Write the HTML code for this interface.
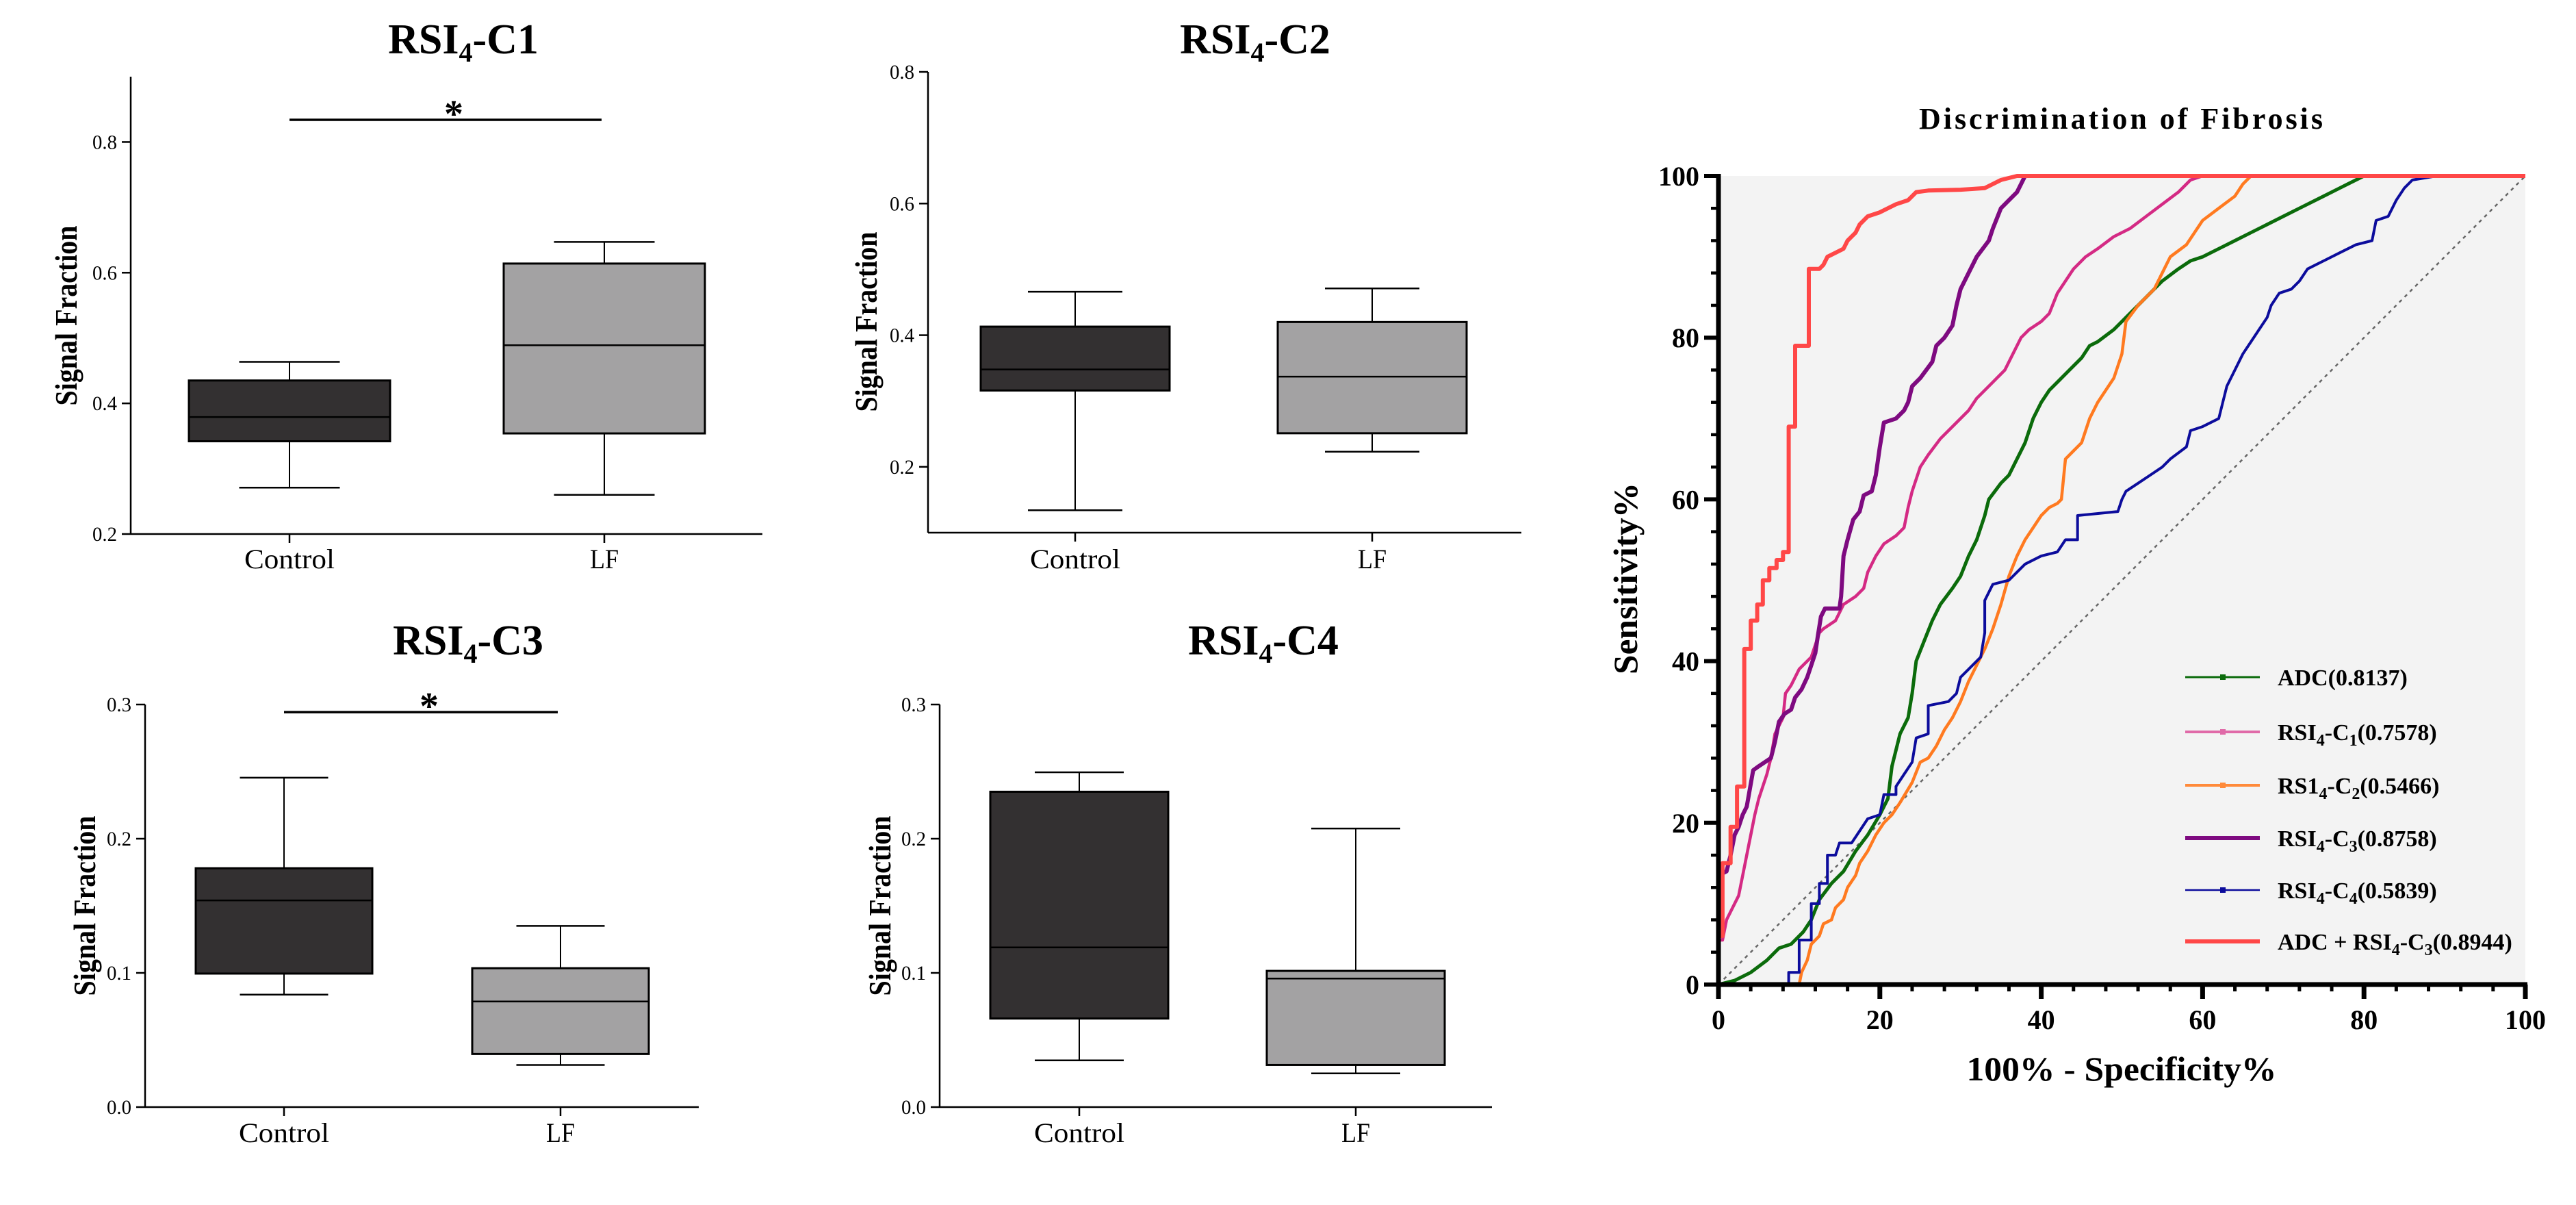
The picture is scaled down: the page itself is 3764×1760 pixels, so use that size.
<!DOCTYPE html>
<html><head><meta charset="utf-8"><style>
html,body{margin:0;padding:0;background:#fff;overflow:hidden;}
svg{display:block;}
text{font-family:"Liberation Serif",serif;fill:#000;}
</style></head><body>
<svg id="fig" width="3764" height="1760" viewBox="0 0 3764 1760" xmlns="http://www.w3.org/2000/svg">
<rect x="0" y="0" width="3764" height="1760" fill="#fff"/>
</svg>
<script>
// ---- Box plot data (min, q1, median, q3, max) ----
const boxCategories = ["Control", "LF"];
const c1Control = [0.271, 0.342, 0.379, 0.435, 0.4635];
const c1LF = [0.260, 0.354, 0.489, 0.614, 0.647];
const c2Control = [0.134, 0.316, 0.348, 0.413, 0.466];
const c2LF = [0.223, 0.251, 0.337, 0.420, 0.471];
const c3Control = [0.0838, 0.0995, 0.154, 0.178, 0.2455];
const c3LF = [0.0314, 0.0396, 0.0787, 0.1035, 0.135];
const c4Control = [0.0348, 0.066, 0.119, 0.235, 0.2495];
const c4LF = [0.0251, 0.0314, 0.0958, 0.1015, 0.2076];
const c1Ticks = [0.2, 0.4, 0.6, 0.8];
const c2Ticks = [0.2, 0.4, 0.6, 0.8];
const c3Ticks = [0.0, 0.1, 0.2, 0.3];
const c4Ticks = [0.0, 0.1, 0.2, 0.3];

// ---- ROC data (x = 100-Specificity%, y = Sensitivity%) ----
const rocTicks = [0, 20, 40, 60, 80, 100];
const rocNames = ["ADC(0.8137)", "RSI4-C1(0.7578)", "RS14-C2(0.5466)", "RSI4-C3(0.8758)", "RSI4-C4(0.5839)", "ADC + RSI4-C3(0.8944)"];
const adcX = [0,2,4,6,7.5,9,10.5,11.5,12.5,14,15.5,17,18.5,20,21,21.5,22.5,23.5,24,24.5,25.5,26.5,27.5,29,30,31,32,33,33.5,35,36,37,38,39,40,41,42,43.5,45,46,47,49,51,53,55,57,58.5,60,62,64,66,68,70,72,75,77,80,100];
const adcY = [0,0.5,1.5,3,4.5,5,6.5,8,10.5,12.5,14,16.5,18.5,21,23,27,31,33,36,40,42.5,45,47,49,50.5,53,55,58,60,62,63,65,67,70,72,73.5,74.5,76,77.5,79,79.5,81,83,85,87,88.5,89.5,90,91,92,93,94,95,96,97.5,98.5,100,100];
const c1X = [0,0,0.5,1,2,2.5,3,3.5,4,4.5,5,6,6.5,7,8,8.3,9,10,11.5,12.5,13,14.5,15.5,17,18,18.5,19.5,20.5,22,23,23.5,24,25,26,27.5,29,31,32,34,35.5,36.5,37.5,38.5,40,41,42,43,44,45.5,47,49,51,53,55,57,58.5,60,100];
const c1Y = [0,5.5,5.5,8,10,11,13.5,16,18.5,21,23,26,28,31,33,36,37,39,40.5,43.5,44,45,47,48,49,51,53,54.5,55.5,56.5,59,61,64,65.5,67.5,69,71,72.5,74.5,76,78,80,81,82,83,85.5,87,88.5,90,91,92.5,93.5,95,96.5,98,99.5,100,100];
const c2X = [0,10,10.3,11,11.5,12.5,13,14,14.5,15.5,16,17,17.5,18.5,19.5,20.5,21.5,22.5,24,25,26,27,28,29,30,31,32,33,34,35,36,37,38,39,40,41,42,42.5,43,44,45,46,47,48,49,50,50.5,52,54,55,56,58,60,62,64,65,66,100];
const c2Y = [0,0,1.5,3,5,6,7.5,8,9.5,10.5,12,13.5,15,16.5,18.5,20,21,22.5,25,27.5,28,29.5,31.5,33,35,37.5,39.5,41.5,44,47,50.5,53,55,56.5,58,59,59.5,60,65,66,67,70,72,73.5,75,78,82,84,86,88,90,91.5,94.5,96,97.5,99,100,100];
const c3X = [0,0,1,1.5,2,2.5,3,3.5,4.3,5,6.5,7,7.5,8.2,9,9.5,10.3,11,11.5,12,12.3,12.7,13.2,15,15.2,15.5,16,16.7,17.5,18,19,19.5,20,20.5,22,23,23.5,24,25,26.5,27,28,29,29.5,30,31,32,33.5,34,35,36,37,38,100];
const c3Y = [0,13.5,14,16,18.5,19.5,21,22,26.5,27,28,30,32.5,33.5,34,35.5,36.5,38,39.5,41,43,45.5,46.5,46.5,48,53,55,57.5,58.5,60.5,61,63,66.5,69.5,70,71,72,74,75,77,79,80,81.5,84,86,88,90,92,93.5,96,97,98,100,100];
const c4X = [0,8.7,8.7,10,10,11.5,11.5,12.5,12.5,13.5,13.5,14.5,15,16.5,17.5,18.5,20,20.5,22,22,23,24,24.5,26,26,28.5,29.5,30,31,32.5,33,33,34,36,37,38,40,42,43,44.5,44.5,49.5,50,50.5,52,53.5,55,56,58,58.5,60,62,62.5,63,64,65,66,67,68,68.5,69.5,71,72,73,75,77,79,81,81.5,83,84,85,86,89,100];
const c4Y = [0,0,1.5,1.5,5.5,5.5,10,10,12.5,12.5,16,16,17.5,17.5,19,20.5,21,23.5,23.5,24.5,26,27.5,30.5,31,34.5,35,36,38,39,40.5,43.5,47.5,49.5,50,51,52,53,53.5,55,55,58,58.5,60,61,62,63,64,65,66.5,68.5,69,70,72,74,76,78,79.5,81,82.5,84,85.5,86,87,88.5,89.5,90.5,91.5,92,94.5,95,97,98.5,99.5,100,100];
const comboX = [0,0,0.5,0.5,1.5,1.5,2.3,2.3,3.2,3.2,4,4,4.8,4.8,5.5,5.5,6.3,6.3,7.2,7.2,8,8,8.7,8.7,9.5,9.5,11.2,11.2,12.5,13,13.5,14.5,15.5,16,17,17.5,18.5,20,21,22,23.5,24.5,26,30,33,35,37,100];
const comboY = [0,6,6,15,15,19.5,19.5,24.5,24.5,41.5,41.5,45,45,47,47,50,50,51.5,51.5,52.5,52.5,53.5,53.5,69,69,79,79,88.5,88.5,89,90,90.5,91,92,93,94,95,95.5,96,96.5,97,98,98.2,98.3,98.5,99.5,100,100];

const NS = "http://www.w3.org/2000/svg";
const svg = document.getElementById("fig");
function mk(tag, attrs, parent) {
  const e = document.createElementNS(NS, tag);
  for (const k in attrs) e.setAttribute(k, attrs[k]);
  (parent || svg).appendChild(e);
  return e;
}

// ---------- Box plots ----------
function boxPanel(cfg) {
  const g = mk("g", {});
  
  
  const yScale = v => cfg.bottom - (v - cfg.vmin) / (cfg.vmax - cfg.vmin) * (cfg.bottom - cfg.top);
  const t = mk("text", {x: cfg.titleX, y: cfg.titleY, "text-anchor": "middle", "font-size": 62, "font-weight": "bold"}, g);
  
  
  t.innerHTML = 'RSI<tspan font-size="40" dy="12">4</tspan><tspan dy="-12">-' + cfg.label + '</tspan>';
  const ya = mk("line", {x1: cfg.axX, y1: cfg.top, x2: cfg.axX, y2: cfg.bottom, stroke: "#000", "stroke-width": 2.5}, g);
  
  
  const xa = mk("line", {x1: cfg.axX, y1: cfg.bottom, x2: cfg.right, y2: cfg.bottom, stroke: "#000", "stroke-width": 2.5}, g);
  
  
  cfg.ticks.forEach(v => {
    const y = yScale(v);
    mk("line", {x1: cfg.axX - 13, y1: y, x2: cfg.axX, y2: y, stroke: "#000", "stroke-width": 2.5}, g);
    const tl = mk("text", {x: cfg.axX - 20, y: y + 10, "text-anchor": "end", "font-size": 30, textLength: 36, lengthAdjust: "spacingAndGlyphs"}, g);
    
    
    tl.textContent = v.toFixed(1);
  });
  const yt = mk("text", {x: 0, y: 0, "text-anchor": "middle", "font-size": 46, "font-weight": "bold", textLength: 263, lengthAdjust: "spacingAndGlyphs", transform: `translate(${cfg.ylabX + 16},${cfg.ylabY}) rotate(-90)`}, g);
  
  
  yt.textContent = "Signal Fraction";
  const data = [cfg.ctrl, cfg.lf];
  const fills = ["#333031", "#a3a2a3"];
  boxCategories.forEach((cat, i) => {
    const cx = cfg.cats[i], d = data[i], hw = cfg.hw;
    mk("line", {x1: cx, y1: cfg.bottom, x2: cx, y2: cfg.bottom + 13, stroke: "#000", "stroke-width": 2.5}, g);
    const cl = mk("text", {x: cx, y: cfg.catY, "text-anchor": "middle", "font-size": 40, textLength: cat.length > 2 ? 132 : 42, lengthAdjust: "spacingAndGlyphs"}, g);
    
    
    cl.textContent = cat;
    const bg = mk("g", {}, g);
    
    
    mk("line", {x1: cx, y1: yScale(d[0]), x2: cx, y2: yScale(d[1]), stroke: "#000", "stroke-width": 2}, bg);
    mk("line", {x1: cx, y1: yScale(d[3]), x2: cx, y2: yScale(d[4]), stroke: "#000", "stroke-width": 2}, bg);
    mk("line", {x1: cx - hw / 2, y1: yScale(d[0]), x2: cx + hw / 2, y2: yScale(d[0]), stroke: "#000", "stroke-width": 2.5}, bg);
    mk("line", {x1: cx - hw / 2, y1: yScale(d[4]), x2: cx + hw / 2, y2: yScale(d[4]), stroke: "#000", "stroke-width": 2.5}, bg);
    mk("rect", {x: cx - hw, y: yScale(d[3]), width: 2 * hw, height: yScale(d[1]) - yScale(d[3]), fill: fills[i], stroke: "#000", "stroke-width": 3}, bg);
    mk("line", {x1: cx - hw, y1: yScale(d[2]), x2: cx + hw, y2: yScale(d[2]), stroke: "#000", "stroke-width": 2.5}, bg);
  });
  if (cfg.sig) {
    const sl = mk("line", {x1: cfg.cats[0], y1: yScale(cfg.sig), x2: cfg.cats[1] - 4, y2: yScale(cfg.sig), stroke: "#000", "stroke-width": 3.5}, g);
    
    
    const st = mk("text", {x: (cfg.cats[0] + cfg.cats[1]) / 2 + 10, y: yScale(cfg.sig) + 10, "text-anchor": "middle", "font-size": 56, "font-weight": "bold"}, g);
    
    
    st.textContent = "*";
  }
}
boxPanel({name: "rsi4-c1-boxplot", label: "C1", titleX: 677, titleY: 78, axX: 191, top: 112, bottom: 780, right: 1114, vmin: 0.2, vmax: 0.9, ticks: c1Ticks, cats: [423, 883], hw: 147, ctrl: c1Control, lf: c1LF, catY: 830, ylabX: 96, ylabY: 461, sig: 0.834});
boxPanel({name: "rsi4-c2-boxplot", label: "C2", titleX: 1834, titleY: 78, axX: 1356, top: 105, bottom: 778, right: 2223, vmin: 0.1, vmax: 0.8, ticks: c2Ticks, cats: [1571, 2005], hw: 138, ctrl: c2Control, lf: c2LF, catY: 830, ylabX: 1265, ylabY: 470});
boxPanel({name: "rsi4-c3-boxplot", label: "C3", titleX: 684, titleY: 956, axX: 212, top: 1029, bottom: 1617, right: 1021, vmin: 0, vmax: 0.3, ticks: c3Ticks, cats: [415, 819], hw: 129, ctrl: c3Control, lf: c3LF, catY: 1668, ylabX: 123, ylabY: 1323, sig: 0.2943});
boxPanel({name: "rsi4-c4-boxplot", label: "C4", titleX: 1846, titleY: 956, axX: 1373, top: 1029, bottom: 1617, right: 2180, vmin: 0, vmax: 0.3, ticks: c4Ticks, cats: [1577, 1981], hw: 130, ctrl: c4Control, lf: c4LF, catY: 1668, ylabX: 1285, ylabY: 1323});

// ---------- ROC ----------
const RX0 = 2511, RX1 = 3690, RY0 = 1438, RY1 = 257;
const rx = v => RX0 + v / 100 * (RX1 - RX0);
const ry = v => RY0 - v / 100 * (RY0 - RY1);
const roc = mk("g", {});


const bgR = mk("rect", {x: RX0, y: RY1, width: RX1 - RX0, height: RY0 - RY1, fill: "#f3f3f3"}, roc);


const rt = mk("text", {x: 3099, y: 188, "text-anchor": "middle", "font-size": 44, "font-weight": "bold", textLength: 590, lengthAdjust: "spacing"}, roc);


rt.textContent = "Discrimination of Fibrosis";
const diag = mk("line", {x1: rx(0), y1: ry(0), x2: rx(100), y2: ry(100), stroke: "#666", "stroke-width": 2.5, "stroke-dasharray": "5,6"}, roc);



const series = [
  {x: adcX, y: adcY, color: "#0b6b0b", w: 5, name: "adc-curve"},
  {x: c1X, y: c1Y, color: "#d42a84", w: 4.5, name: "rsi4-c1-curve"},
  {x: c2X, y: c2Y, color: "#ff7a20", w: 4.5, name: "rsi4-c2-curve"},
  {x: c4X, y: c4Y, color: "#0c0c9c", w: 4, name: "rsi4-c4-curve"},
  {x: c3X, y: c3Y, color: "#7e0a80", w: 6, name: "rsi4-c3-curve"},
  {x: comboX, y: comboY, color: "#ff4747", w: 6, name: "adc-plus-rsi4-c3-curve"}
];
series.forEach(s => {
  const pts = s.x.map((v, i) => rx(v).toFixed(1) + "," + ry(s.y[i]).toFixed(1)).join(" ");
  const pl = mk("polyline", {points: pts, fill: "none", stroke: s.color, "stroke-width": s.w, "stroke-linejoin": "round"}, roc);
  
  
});

const rya = mk("line", {x1: RX0, y1: RY1 - 3, x2: RX0, y2: RY0 + 3, stroke: "#000", "stroke-width": 7}, roc);


const rxa = mk("line", {x1: RX0 - 3, y1: RY0, x2: RX1 + 3, y2: RY0, stroke: "#000", "stroke-width": 7}, roc);


for (let v = 0; v <= 100; v += 4) {
  const major = v % 20 === 0;
  mk("line", {x1: rx(v), y1: RY0, x2: rx(v), y2: RY0 + (major ? 21 : 10), stroke: "#000", "stroke-width": major ? 7 : 5}, roc);
  mk("line", {x1: RX0, y1: ry(v), x2: RX0 - (major ? 21 : 11), y2: ry(v), stroke: "#000", "stroke-width": major ? 6 : 4.5}, roc);
}
rocTicks.forEach(v => {
  const xl = mk("text", {x: rx(v), y: 1503, "text-anchor": "middle", "font-size": 40, "font-weight": "bold"}, roc);
  
  
  xl.textContent = v;
  const yl = mk("text", {x: 2483, y: ry(v) + 14, "text-anchor": "end", "font-size": 40, "font-weight": "bold"}, roc);
  
  
  yl.textContent = v;
});
const rxt = mk("text", {x: 3100, y: 1578, "text-anchor": "middle", "font-size": 50, "font-weight": "bold", textLength: 453, lengthAdjust: "spacingAndGlyphs"}, roc);


rxt.textContent = "100% - Specificity%";
const ryt = mk("text", {x: 0, y: 0, "text-anchor": "middle", "font-size": 50, "font-weight": "bold", textLength: 280, lengthAdjust: "spacingAndGlyphs", transform: "translate(2392,845) rotate(-90)"}, roc);


ryt.textContent = "Sensitivity%";

const legendRows = [989, 1069, 1147, 1224, 1300, 1375];
const legendStyle = [
  {color: "#0b6b0b", w: 3, html: 'ADC(0.8137)'},
  {color: "#e06aa8", w: 4, html: 'RSI<tspan font-size="24" dy="8">4</tspan><tspan dy="-8">-C</tspan><tspan font-size="24" dy="8">1</tspan><tspan dy="-8">(0.7578)</tspan>'},
  {color: "#ff8a3a", w: 4, html: 'RS1<tspan font-size="24" dy="8">4</tspan><tspan dy="-8">-C</tspan><tspan font-size="24" dy="8">2</tspan><tspan dy="-8">(0.5466)</tspan>'},
  {color: "#7e0a80", w: 6, html: 'RSI<tspan font-size="24" dy="8">4</tspan><tspan dy="-8">-C</tspan><tspan font-size="24" dy="8">3</tspan><tspan dy="-8">(0.8758)</tspan>'},
  {color: "#0c0c9c", w: 2.5, html: 'RSI<tspan font-size="24" dy="8">4</tspan><tspan dy="-8">-C</tspan><tspan font-size="24" dy="8">4</tspan><tspan dy="-8">(0.5839)</tspan>'},
  {color: "#ff4747", w: 6, html: 'ADC + RSI<tspan font-size="24" dy="8">4</tspan><tspan dy="-8">-C</tspan><tspan font-size="24" dy="8">3</tspan><tspan dy="-8">(0.8944)</tspan>'}
];
rocNames.forEach((nm, i) => {
  const y = legendRows[i], st = legendStyle[i];
  const lg = mk("g", {}, roc);
  
  
  mk("line", {x1: 3193, y1: y, x2: 3302, y2: y, stroke: st.color, "stroke-width": st.w}, lg);
  if (st.w < 5) mk("rect", {x: 3244, y: y - 4, width: 8, height: 8, fill: st.color}, lg);
  const tx = mk("text", {x: 3328, y: y + 12, "font-size": 34, "font-weight": "bold"}, lg);
  tx.innerHTML = st.html;
});
</script>
</body></html>
